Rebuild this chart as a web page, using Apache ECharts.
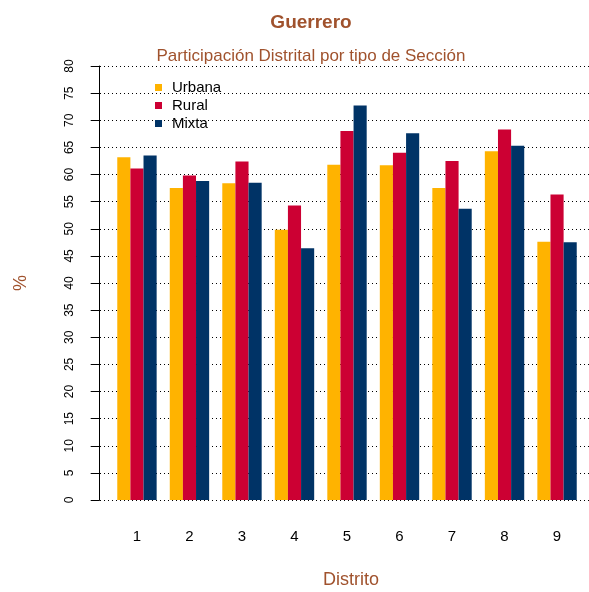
<!DOCTYPE html>
<html><head><meta charset="utf-8">
<script src="https://cdn.jsdelivr.net/npm/echarts@6/dist/echarts.min.js"></script>
<style>html,body{margin:0;padding:0;background:#fff}#c{width:589px;height:592px}</style>
</head><body><div id="c"></div>
<script>
const distritos = ['1','2','3','4','5','6','7','8','9'];
const urbana = [63.2, 57.5, 58.4, 49.8, 61.8, 61.7, 57.5, 64.3, 47.6];
const rural  = [61.1, 59.8, 62.4, 54.3, 68.0, 64.0, 62.5, 68.3, 56.3];
const mixta  = [63.5, 58.8, 58.5, 46.4, 72.7, 67.6, 53.7, 65.3, 47.5];
const yMin = 0, yMax = 80, yStep = 5;

const FONT = 'Liberation Sans, Arial, Helvetica, sans-serif';
const BROWN = '#A0522D';
const chart = echarts.init(document.getElementById('c'), null, {renderer:'canvas'});
chart.setOption({
  animation: false,
  backgroundColor: '#fff',
  textStyle: {fontFamily: FONT},
  title: [
    {text: 'Guerrero', left: 311, top: 13, padding: 0, textAlign: 'center',
     textStyle: {fontFamily: FONT, fontSize: 19, fontWeight: 'bold', color: BROWN}},
    {text: 'Participación Distrital por tipo de Sección', left: 311, top: 48, padding: 0, textAlign: 'center',
     textStyle: {fontFamily: FONT, fontSize: 17, fontWeight: 'normal', color: BROWN}}
  ],
  legend: {
    data: ['Urbana','Rural','Mixta'], orient: 'vertical', left: 155, top: 80, padding: 0,
    icon: 'rect', itemWidth: 7, itemHeight: 7, itemGap: 3,
    textStyle: {fontFamily: FONT, fontSize: 15, color: '#000', padding: [0,0,0,5]}
  },
  grid: [
    {left: 110.7, right: 5.7, top: 66, bottom: 92},
    {left: 100, right: 0, top: 66, bottom: 92}
  ],
  xAxis: [
    {type: 'category', gridIndex: 0, data: distritos,
     axisLine: {show: false}, axisTick: {show: false},
     axisLabel: {fontFamily: FONT, fontSize: 15, color: '#000', margin: 29}},
    {type: 'value', gridIndex: 1, min: 0, max: 1, show: false}
  ],
  yAxis: [
    {type: 'value', gridIndex: 0, min: yMin, max: yMax, interval: yStep, offset: 11,
     axisLine: {show: true, lineStyle: {color: '#000', width: 1}},
     axisTick: {show: true, length: 9, lineStyle: {color: '#000'}},
     axisLabel: {rotate: 90, fontFamily: FONT, fontSize: 12, color: '#000', margin: 24},
     splitLine: {show: false}},
    {type: 'value', gridIndex: 1, min: yMin, max: yMax, interval: yStep,
     axisLine: {show: false}, axisTick: {show: false}, axisLabel: {show: false},
     splitLine: {show: true, lineStyle: {color: '#000', width: 1, type: [1,3]}}}
  ],
  series: [
    {name: 'Urbana', type: 'bar', data: urbana, xAxisIndex: 0, yAxisIndex: 0,
     barGap: '0%', barCategoryGap: '25%', itemStyle: {color: '#FFB300'}},
    {name: 'Rural', type: 'bar', data: rural, xAxisIndex: 0, yAxisIndex: 0,
     barGap: '0%', barCategoryGap: '25%', itemStyle: {color: '#CC0033'}},
    {name: 'Mixta', type: 'bar', data: mixta, xAxisIndex: 0, yAxisIndex: 0,
     barGap: '0%', barCategoryGap: '25%', itemStyle: {color: '#003366'}}
  ],
  graphic: [
    {type: 'text', x: 21, y: 283, rotation: Math.PI/2,
     style: {text: '%', fontFamily: FONT, fontSize: 18, fill: BROWN, align: 'center', verticalAlign: 'middle'}},
    {type: 'text', x: 351, y: 580,
     style: {text: 'Distrito', fontFamily: FONT, fontSize: 18, fill: BROWN, align: 'center', verticalAlign: 'middle'}}
  ]
});
</script></body></html>
